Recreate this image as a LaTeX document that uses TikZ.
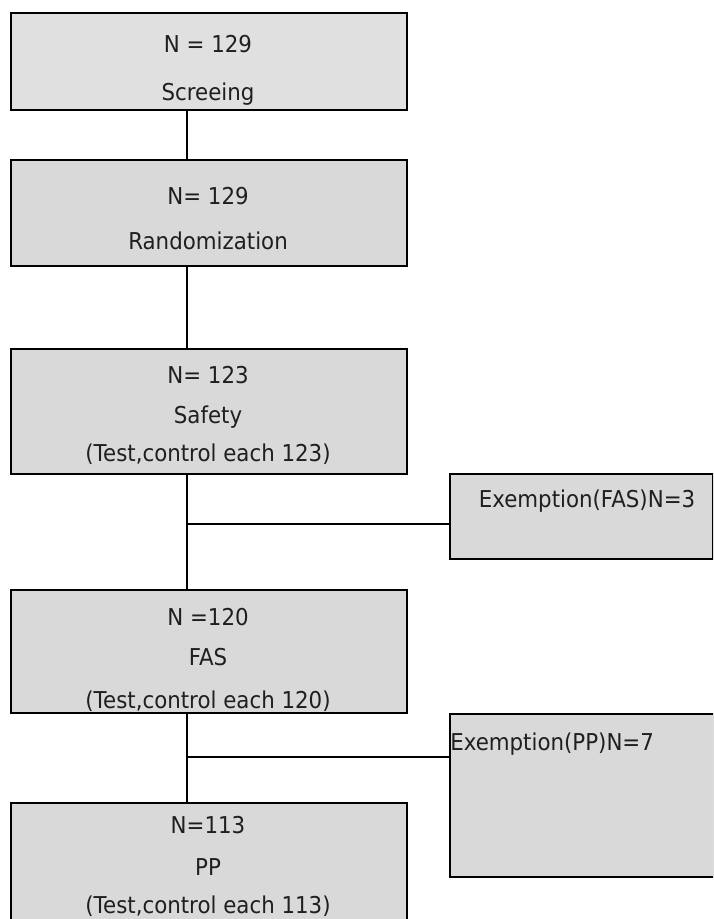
\documentclass[tikz,border=0pt]{standalone}
\usepackage{fontspec}
\setmainfont{DejaVu Sans}[FakeStretch=0.92]
\begin{document}
\begin{tikzpicture}[x=0.75pt,y=-0.75pt,
  box/.style={draw=black,line width=1.8pt,fill=boxgray,inner sep=0pt,anchor=north west},
  lbl/.style={anchor=base,inner sep=0pt,text=black!88,font=\fontsize{17.4}{20}\selectfont},
  link/.style={draw=black,line width=1.6pt}]
\definecolor{boxgray}{HTML}{D9D9D9}
\definecolor{boxlight}{HTML}{E0E0E0}
\clip (0,0) rectangle (713,919);
\fill[white] (0,0) rectangle (713,919);

% main column boxes
\node[box,fill=boxlight,minimum width=297pt,minimum height=72.75pt] (screen) at (10,12) {};
\node[box,minimum width=297pt,minimum height=79.5pt] (rand) at (10,159) {};
\node[box,minimum width=297pt,minimum height=93.75pt] (safety) at (10,348) {};
\node[box,minimum width=297pt,minimum height=92.25pt] (fas) at (10,589) {};
\node[box,minimum width=297pt,minimum height=100pt] (pp) at (10,802) {};
\coordinate (spine) at (187,0);

% side boxes
\node[box,minimum width=197.25pt,minimum height=63.75pt] (exfas) at (449,473) {};
\node[box,minimum width=198pt,minimum height=122.25pt] (expp) at (449,713) {};

% texts
\node[lbl] (t1a) at (208,53) {N = 129};
\node[lbl] (t1b) at (208,101) {Screeing};
\node[lbl] (t2a) at (208,205) {N= 129};
\node[lbl] (t2b) at (208,250) {Randomization};
\node[lbl] (t3a) at (208,383) {N= 123};
\node[lbl] (t3b) at (208,423) {Safety};
\node[lbl] (t3c) at (208,461) {(Test,control each 123)};
\node[lbl] (t4a) at (587,507) {Exemption(FAS)N=3};
\node[lbl] (t5a) at (208,625) {N =120};
\node[lbl] (t5b) at (208,665) {FAS};
\node[lbl] (t5c) at (208,708) {(Test,control each 120)};
\node[lbl,anchor=base west] (t6a) at (450,750) {Exemption(PP)N=7};
\node[lbl] (t7a) at (208,833) {N=113};
\node[lbl] (t7b) at (208,875) {PP};
\node[lbl] (t7c) at (208,913) {(Test,control each 113)};

% connectors
\draw[link] (screen.south -| spine) -- (rand.north -| spine);
\draw[link] (rand.south -| spine) -- (safety.north -| spine);
\draw[link] (safety.south -| spine) -- (fas.north -| spine);
\draw[link] (fas.south -| spine) -- (pp.north -| spine);
\coordinate (j1) at (187,524);
\coordinate (j2) at (187,757);
\draw[link] (j1) -- (j1 -| exfas.west);
\draw[link] (j2) -- (j2 -| expp.west);
\end{tikzpicture}
\end{document}
